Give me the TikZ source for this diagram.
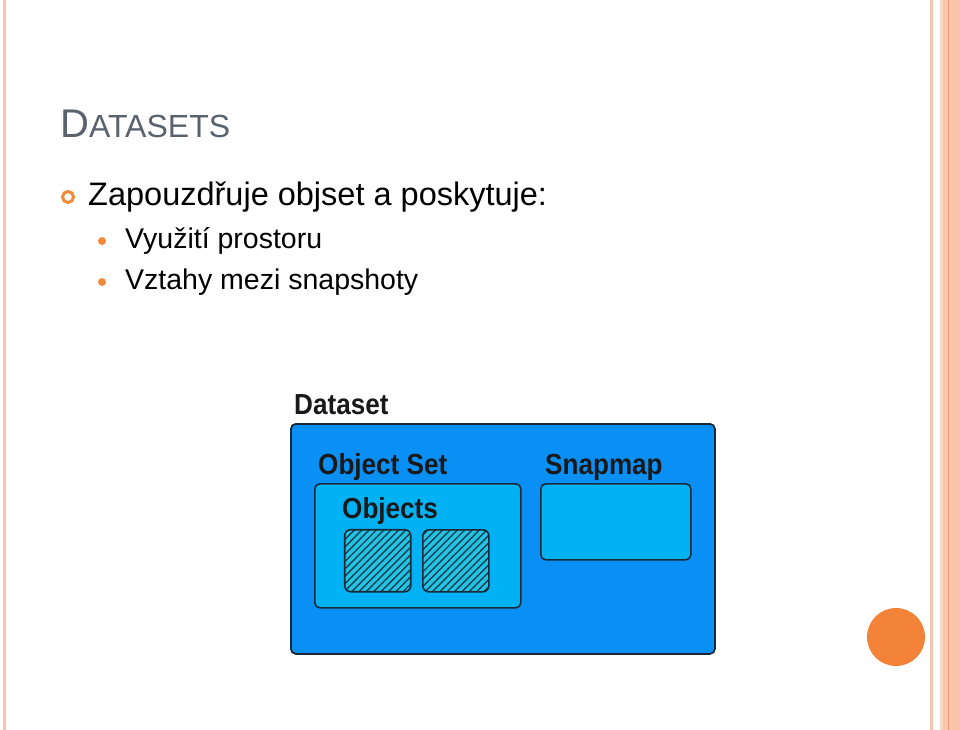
\documentclass[tikz,border=0pt]{standalone}
\usepackage{fontspec}
\setmainfont{Liberation Sans}
\newfontfamily\diagfont[FakeStretch=0.9]{Liberation Sans}
\usetikzlibrary{patterns.meta}
\definecolor{stripeA}{HTML}{F3C6B4}
\definecolor{stripeB}{HTML}{FCC4AA}
\definecolor{stripeC}{HTML}{EE9A78}
\definecolor{titlegray}{HTML}{59636E}
\definecolor{bulletorange}{HTML}{F28A3C}
\definecolor{outerblue}{HTML}{0A90F5}
\definecolor{innerblue}{HTML}{00B2F4}
\definecolor{hatchcyan}{HTML}{25C3E2}
\definecolor{hatchdark}{HTML}{0E3F55}
\definecolor{edgedark}{HTML}{1B2838}
\tikzset{
  body/.style={anchor=base west, inner sep=0pt, text=black},
  dlabel/.style={anchor=base west, inner sep=0pt, text=black!90, font=\diagfont\bfseries\fontsize{29}{32}\selectfont},
  outerbox/.style={anchor=north west, draw=edgedark, line width=1.8pt, fill=outerblue, rounded corners=5pt, inner sep=0pt},
  innerbox/.style={anchor=north west, draw=edgedark, line width=1.6pt, fill=innerblue, rounded corners=5pt, inner sep=0pt},
  hatchbox/.style={anchor=north west, draw=edgedark, line width=1.6pt, rounded corners=6pt, inner sep=0pt,
    minimum width=66pt, minimum height=62pt,
    preaction={fill=hatchcyan},
    pattern={Lines[angle=45,distance=5.2pt,line width=1.4pt]}, pattern color=hatchdark},
}
\begin{document}
\begin{tikzpicture}[x=1pt,y=-1pt]
\useasboundingbox (0,0) rectangle (960,730);
\fill[white] (0,0) rectangle (960,730);
% page decoration stripes
\fill[stripeA] (2.5,0) rectangle (3.6,730);
\fill[stripeB] (4.4,0) rectangle (6,730);
\fill[stripeA] (929.5,0) rectangle (932.5,730);
\fill[stripeB] (940,0) rectangle (960,730);
\fill[stripeA!70!white] (940,0) rectangle (943,730);
\fill[stripeC] (947.5,0) rectangle (948.6,730);
% title
\node[body, text=titlegray] (title) at (60,138) {\fontsize{40}{46}\selectfont D\fontsize{32}{38}\selectfont ATASETS};
% bullets
\node[draw=bulletorange, line width=3pt, circle, minimum size=11pt, inner sep=0pt] (b1) at (68,197) {};
\node[body] (t1) at (88,205) {\fontsize{32.5}{38}\selectfont Zapouzdřuje objset a poskytuje:};
\node[fill=bulletorange, circle, minimum size=8pt, inner sep=0pt] (b2) at (102,241) {};
\node[body] (t2) at (125,248) {\fontsize{28.5}{34}\selectfont Využití prostoru};
\node[fill=bulletorange, circle, minimum size=8pt, inner sep=0pt] (b3) at (102,282) {};
\node[body] (t3) at (125,289) {\fontsize{28.5}{34}\selectfont Vztahy mezi snapshoty};
% diagram
\node[dlabel] (dslabel) at (294,414) {Dataset};
\node[outerbox, minimum width=424pt, minimum height=230pt] (dataset) at (290,423) {};
\node[dlabel] (oslabel) at (318,474) {Object Set};
\node[innerbox, minimum width=206pt, minimum height=124pt] (objset) at (314,483) {};
\node[dlabel] (objlabel) at (342,518) {Objects};
\node[hatchbox] (obj1) at (344,529) {};
\node[hatchbox] (obj2) at (422,529) {};
\node[dlabel] (smlabel) at (545,474) {Snapmap};
\node[innerbox, minimum width=150pt, minimum height=76pt] (snapmap) at (540,483) {};
% orange circle
\node[fill=bulletorange!95!red, circle, minimum size=58pt, inner sep=0pt] (dot) at (896,637) {};
\end{tikzpicture}
\end{document}
